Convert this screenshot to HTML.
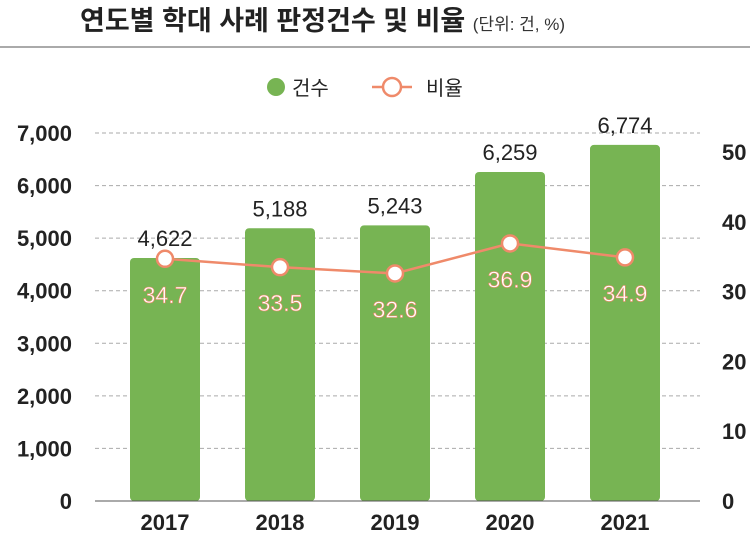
<!DOCTYPE html>
<html><head><meta charset="utf-8"><style>
body{margin:0;background:#fff;width:750px;height:540px;overflow:hidden;font-family:"Liberation Sans","Noto Sans CJK KR",sans-serif;}
</style></head><body>
<svg width="750" height="540" font-family="Liberation Sans, Noto Sans CJK KR, sans-serif">
<text x="80" y="30" font-size="27" font-weight="bold" fill="#222">연도별 학대 사례 판정건수 및 비율 <tspan font-size="17" font-weight="normal" fill="#333">(단위: 건, %)</tspan></text>
<line x1="0" y1="47" x2="750" y2="47" stroke="#555" stroke-width="1"/>
<g>
<circle cx="276" cy="87" r="9" fill="#77b453"/>
<text x="292" y="95" font-size="20" fill="#222">건수</text>
<line x1="372" y1="87" x2="412" y2="87" stroke="#ef8a6a" stroke-width="2.5"/>
<circle cx="392" cy="87" r="9" fill="#fff" stroke="#ef8a6a" stroke-width="2.5"/>
<text x="426" y="95" font-size="20" fill="#222">비율</text>
</g>
<g id="grid"></g><g id="bars"></g><g id="line"></g><g id="axes"></g>
</svg>
<script>
const years=["2017","2018","2019","2020","2021"];
const counts=[4622,5188,5243,6259,6774];
const rates=[34.7,33.5,32.6,36.9,34.9];
const leftTicks=[0,1000,2000,3000,4000,5000,6000,7000];
const rightTicks=[0,10,20,30,40,50];
const NS="http://www.w3.org/2000/svg";
const y0=501,yTop=133;
const yL=v=>y0-(v/7000)*(y0-yTop);
const yR=v=>y0-(v/50)*(y0-152);
const xC=i=>165+i*115;
function mk(t,a,p,txt){const e=document.createElementNS(NS,t);for(const k in a)e.setAttribute(k,a[k]);if(txt!==undefined)e.textContent=txt;p.appendChild(e);return e;}
const g=document.getElementById('grid'),b=document.getElementById('bars'),l=document.getElementById('line'),ax=document.getElementById('axes');
leftTicks.forEach(v=>{
 if(v>0){const ln=mk('line',{x1:95,x2:700,y1:yL(v),y2:yL(v),stroke:'#aaa','stroke-dasharray':'4,3'},g);
 
 }
 const t=mk('text',{x:72,y:yL(v)+8,'font-size':22,'font-weight':'bold','text-anchor':'end',fill:'#222'},ax,v.toLocaleString('en-US'));
 
 
});
const base=mk('line',{x1:95,x2:700,y1:y0,y2:y0,stroke:'#555'},ax);


rightTicks.forEach(v=>{
 const t=mk('text',{x:722,y:yR(v)+8,'font-size':22,'font-weight':'bold',fill:'#222'},ax,v);
 
 
});
years.forEach((yr,i)=>{
 const r=mk('rect',{x:xC(i)-35,y:yL(counts[i]),width:70,height:y0-yL(counts[i]),rx:4,fill:'#77b453'},b);
 
 
 const t=mk('text',{x:xC(i),y:yL(counts[i])-12,'font-size':22,'text-anchor':'middle',fill:'#222'},b,counts[i].toLocaleString('en-US'));
 
 
 const xl=mk('text',{x:xC(i),y:530,'font-size':22,'font-weight':'bold','text-anchor':'middle',fill:'#222'},ax,yr);
 
 
});
const pts=rates.map((v,i)=>xC(i)+','+yR(v)).join(' ');
const pl=mk('polyline',{points:pts,fill:'none',stroke:'#ef8a6a','stroke-width':2.5},l);


rates.forEach((v,i)=>{
 const c=mk('circle',{cx:xC(i),cy:yR(v),r:8,fill:'#fff',stroke:'#ef8a6a','stroke-width':2.5},l);
 
 
 const t=mk('text',{x:xC(i),y:yR(v)+44,'font-size':23,'text-anchor':'middle',fill:'#fff',stroke:'#ef8a6a','stroke-width':0.6},l,v.toFixed(1));
 
 
});
</script>
</body></html>
